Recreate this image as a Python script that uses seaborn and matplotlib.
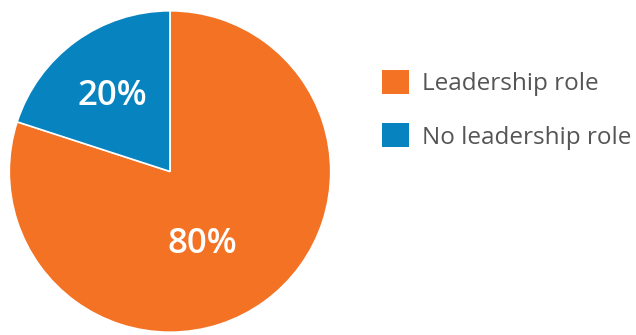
import matplotlib
matplotlib.use("Agg")
import matplotlib.pyplot as plt
from matplotlib.patches import Patch
import seaborn as sns

# Share of respondents by role
categories = ["Leadership role", "No leadership role"]
shares = [80, 20]
colors = ["#F37224", "#0783C0"]

sns.set_theme(style="white")
plt.rcParams["font.family"] = ["Open Sans", "DejaVu Sans"]

W, H = 636, 335
fig = plt.figure(figsize=(W / 100, H / 100), dpi=100)
fig.patch.set_facecolor("white")

# Pie axes: centre near (170, 171) px, radius ~162 px
ax = fig.add_axes([8 / W, 2 / H, 324 / W, 323 / H])
wedges, _ = ax.pie(
    shares,
    colors=colors,
    startangle=90,
    counterclock=False,
    radius=1,
    wedgeprops=dict(edgecolor="white", linewidth=1.2),
)
ax.set_xlim(-1.005, 1.005)
ax.set_ylim(-1.005, 1.005)
ax.set_aspect("equal")
ax.axis("off")

# Percentage labels inside the wedges
label_pos = {"Leadership role": (0.198, -0.454), "No leadership role": (-0.358, 0.472)}
for cat, val in zip(categories, shares):
    x, y = label_pos[cat]
    ax.text(x, y, f"{val}%", color="white", fontsize=25, fontweight="semibold",
            ha="center", va="center")

handles = [Patch(facecolor=c, edgecolor="none") for c in colors]
fig.legend(
    handles, categories,
    loc="upper left",
    bbox_to_anchor=(382 / W, 1 - 70 / H),
    frameon=False,
    fontsize=17.5,
    handlelength=1.13,
    handleheight=1.13,
    handletextpad=0.5,
    labelspacing=1.12,
    borderpad=0,
    borderaxespad=0,
    labelcolor="#555555",
)

fig.savefig("out.png", dpi=100)
